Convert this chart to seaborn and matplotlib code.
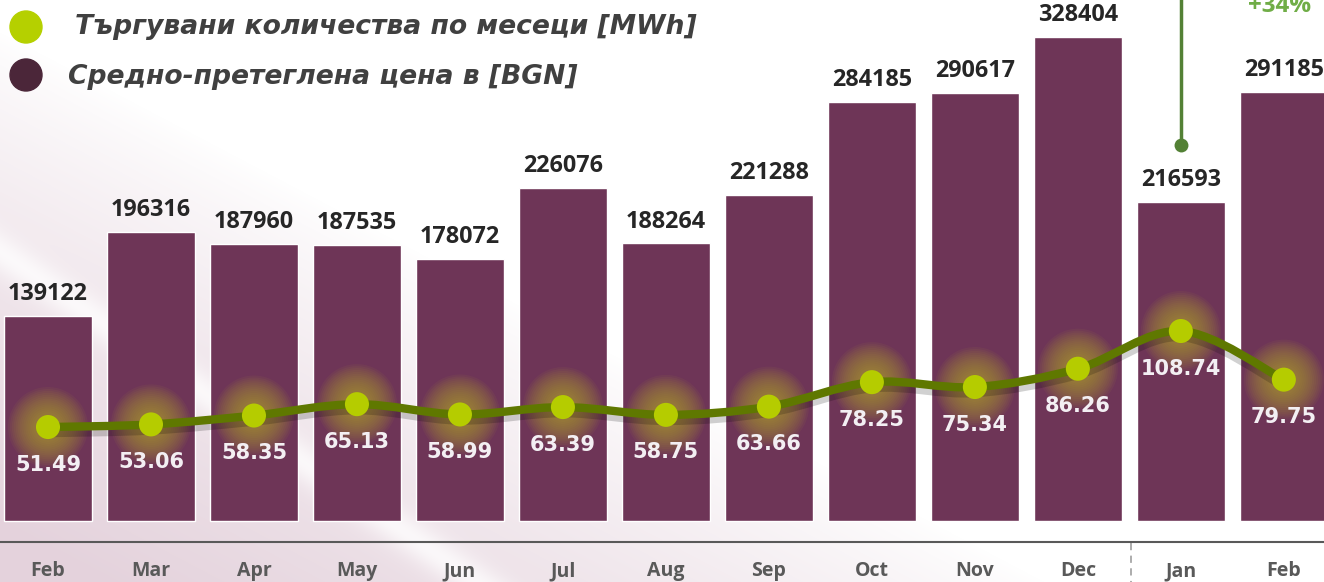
import numpy as np
import pandas as pd
import matplotlib
matplotlib.use("Agg")
import matplotlib.pyplot as plt
import seaborn as sns
from matplotlib.path import Path
from matplotlib.patches import PathPatch, Ellipse
from matplotlib.transforms import offset_copy

# ---------------- data ----------------
months = ["Feb", "Mar", "Apr", "May", "Jun", "Jul", "Aug", "Sep", "Oct", "Nov", "Dec", "Jan", "Feb"]
quantities = [139122, 196316, 187960, 187535, 178072, 226076, 188264, 221288,
              284185, 290617, 328404, 216593, 291185]
prices = [51.49, 53.06, 58.35, 65.13, 58.99, 63.39, 58.75, 63.66,
          78.25, 75.34, 86.26, 108.74, 79.75]
legend_labels = ["Търгувани количества по месеци [MWh]", "Средно-претеглена цена в [BGN]"]
change_label = "+34%"

df = pd.DataFrame({"idx": np.arange(len(months)), "qty": quantities, "price": prices})

# ---------------- style ----------------
sns.set_theme(style="white")
plt.rcParams["font.family"] = ["Open Sans", "DejaVu Sans"]

W, H = 1324, 582
BAR = "#6e3557"
LINE = "#5f7800"
MARK = "#b5cc00"
GLOW = "#b0a030"

fig = plt.figure(figsize=(W / 100, H / 100), dpi=100)

# background pink gradient with a light diagonal streak
bg = fig.add_axes([0, 0, 1, 1], zorder=-10)
yy, xx = np.mgrid[0:H, 0:W]
inten = np.clip(1.1 - (xx / 950.0) - ((H - yy) / 450.0) * 0.9, 0, 1) ** 0.8
a, b = 180.0, -260.0
c = -(a * 200 + b * 390)
d = np.abs(a * xx + b * yy + c) / np.hypot(a, b)
inten = inten * (1 - 0.75 * np.exp(-(d / 18.0) ** 2))
pink = np.array([228, 210, 220]) / 255.0
img = 1 - inten[..., None] * (1 - pink[None, None, :])
bg.imshow(img, extent=[0, W, H, 0], aspect="auto", interpolation="bilinear")
bg.set_xlim(0, W)
bg.set_ylim(H, 0)
bg.axis("off")

ax = fig.add_axes([0, 0, 1, 1])
ax.patch.set_alpha(0)

X_LO, X_HI = -0.466, 12.39
Q_LO, Q_HI = -41400, 353460
P_LO, P_HI = -40.9, 306.1


def qy(py):
    return Q_HI - py / H * (Q_HI - Q_LO)


sns.barplot(data=df, x="idx", y="qty", color=BAR, saturation=1, width=0.855, ax=ax)
ax.set_xlim(X_LO, X_HI)
ax.set_ylim(Q_LO, Q_HI)
ax.set_xlabel("")
ax.set_ylabel("")
ax.set_yticks([])
for s in ["top", "left", "right"]:
    ax.spines[s].set_visible(False)
ax.spines["bottom"].set_position(("data", qy(542)))
ax.spines["bottom"].set_color("#595959")
ax.spines["bottom"].set_linewidth(1.5)

# dashed separator between Dec and Jan
ax.plot([10.52, 10.52], [qy(543), qy(582)], color="#a6a6a6", lw=1.3, ls=(0, (4, 3)), clip_on=False)

# quantity labels
for i, v in enumerate(quantities):
    ax.annotate(str(v), (i, v), xytext=(0, 11.5), textcoords="offset points",
                ha="center", va="baseline", fontsize=16.8, fontweight="bold",
                color="#262626", family="Open Sans")

# green annotation line at Jan
ax.plot([11, 11], [qy(-5), qy(145)], color="#538135", lw=2.5, solid_capstyle="butt", clip_on=False)
ax.plot([11], [qy(145)], "o", color="#538135", ms=10, mec="none")
ax.text(11.96, qy(12), change_label, ha="center", va="baseline", fontsize=17.5,
        fontweight="bold", color="#70ad47", family="Open Sans", clip_on=False)

# ---------------- price line ----------------
ax2 = ax.twinx()
ax2.set_ylim(P_LO, P_HI)
ax2.set_xlim(X_LO, X_HI)
ax2.set_axis_off()

pts = np.column_stack([df["idx"].values.astype(float), df["price"].values])
verts = [tuple(pts[0])]
codes = [Path.MOVETO]
n = len(pts)
for i in range(n - 1):
    p0 = pts[i - 1] if i > 0 else pts[i]
    p1 = pts[i]
    p2 = pts[i + 1]
    p3 = pts[i + 2] if i + 2 < n else pts[i + 1]
    c1 = p1 + (p2 - p0) / 6.0
    c2 = p2 - (p3 - p1) / 6.0
    verts += [tuple(c1), tuple(c2), tuple(p2)]
    codes += [Path.CURVE4, Path.CURVE4, Path.CURVE4]
path = Path(verts, codes)

# soft glow halos
for size in np.linspace(80, 30, 14):
    ax2.scatter(df["idx"], df["price"], s=(size / 1.389) ** 2, color=GLOW, alpha=0.07,
                edgecolors="none", zorder=2)

shadow_tr = offset_copy(ax2.transData, fig=fig, x=0, y=-4, units="dots")
ax2.add_patch(PathPatch(path, fill=False, edgecolor="black", alpha=0.18, lw=9,
                        transform=shadow_tr, zorder=3, capstyle="round"))
ax2.add_patch(PathPatch(path, fill=False, edgecolor=LINE, lw=6, zorder=4, capstyle="round"))

sns.scatterplot(data=df, x="idx", y="price", ax=ax2, s=300, color=MARK,
                edgecolor="none", zorder=5, legend=False)
ax2.set_xlim(X_LO, X_HI)
ax2.set_ylim(P_LO, P_HI)

for i, p in enumerate(prices):
    ax2.annotate(f"{p:.2f}", (i, p), xytext=(0, -27), textcoords="offset points",
                 ha="center", va="center", fontsize=15, fontweight="bold",
                 color="#f3eff3", family="DejaVu Sans", zorder=6)

# month tick labels (set last, after the shared-x scatter)
ax.set_xticks(range(len(months)))
ax.set_xticklabels(months)
ax.tick_params(axis="x", length=0, pad=14)
for lab in ax.get_xticklabels():
    lab.set_fontsize(14)
    lab.set_fontweight("bold")
    lab.set_color("#595959")
    lab.set_family("Open Sans")

# ---------------- legend ----------------
fig.add_artist(Ellipse((26 / W, 1 - 27 / H), 32 / W, 32 / H, transform=fig.transFigure,
                       color="#b5d000", zorder=10))
fig.add_artist(Ellipse((26 / W, 1 - 75 / H), 32 / W, 32 / H, transform=fig.transFigure,
                       color="#4b2639", zorder=10))
fig.text(75 / W, 1 - 27 / H, legend_labels[0], fontsize=19.2, fontweight="bold", style="italic",
         color="#404040", va="center", ha="left", family="DejaVu Sans")
fig.text(68 / W, 1 - 77 / H, legend_labels[1], fontsize=19.2, fontweight="bold", style="italic",
         color="#404040", va="center", ha="left", family="DejaVu Sans")

fig.savefig("out.png", dpi=100)
